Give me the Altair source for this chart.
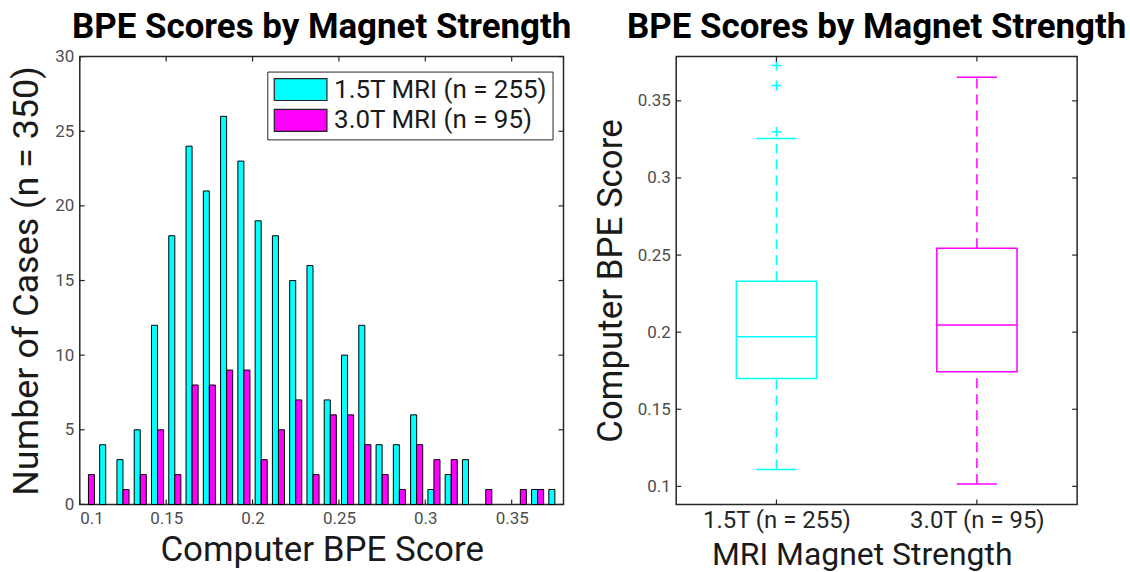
import altair as alt
import pandas as pd

# ---- histogram data: counts per 0.01-wide bin of computer BPE score ----
bin_centers = [0.105, 0.115, 0.125, 0.135, 0.145, 0.155, 0.165, 0.175, 0.185, 0.195,
               0.205, 0.215, 0.225, 0.235, 0.245, 0.255, 0.265, 0.275, 0.285, 0.295,
               0.305, 0.315, 0.325, 0.335, 0.345, 0.355, 0.365, 0.375]
counts_15t = [0, 4, 3, 5, 12, 18, 24, 21, 26, 23, 19, 18, 15, 16, 7, 10, 12, 4, 4, 6,
              1, 2, 3, 0, 0, 0, 1, 1]
counts_30t = [2, 0, 1, 2, 5, 2, 8, 8, 9, 9, 3, 5, 7, 2, 6, 6, 4, 2, 1, 4,
              3, 3, 0, 1, 0, 1, 1, 0]
series_names = ["1.5T MRI (n = 255)", "3.0T MRI (n = 95)"]
hist_x_ticks = [0.1, 0.15, 0.2, 0.25, 0.3, 0.35]
hist_y_ticks = [0, 5, 10, 15, 20, 25, 30]

# ---- box plot summary per magnet strength ----
groups = ["1.5T (n = 255)", "3.0T (n = 95)"]
group_pos = [1, 2]
lower_whisker = [0.111, 0.1015]
q1 = [0.170, 0.1743]
median = [0.197, 0.2046]
q3 = [0.233, 0.2545]
upper_whisker = [0.3256, 0.3653]
outlier_group = ["1.5T (n = 255)", "1.5T (n = 255)", "1.5T (n = 255)"]
outlier_pos = [1, 1, 1]
outlier_value = [0.330, 0.360, 0.373]
box_y_ticks = [0.1, 0.15, 0.2, 0.25, 0.3, 0.35]

CYAN = "#00FFFF"
MAGENTA = "#FF00FF"
AXIS_GREY = "#262626"
LABEL_GREY = "#4d4d4d"
FONT = "Roboto"
TITLE = "BPE Scores by Magnet Strength"

W1, H1 = 485, 449
W2, H2 = 402, 449
TICK = 5

hist_df = pd.DataFrame({
    "center": bin_centers * 2,
    "count": counts_15t + counts_30t,
    "series": [series_names[0]] * len(bin_centers) + [series_names[1]] * len(bin_centers),
})

x_scale_h = alt.Scale(domain=[0.1, 0.38], nice=False, zero=False)
y_scale_h = alt.Scale(domain=[0, 30], nice=False)

is_first = f"datum.series == '{series_names[0]}'"
bars = (
    alt.Chart(hist_df)
    .transform_filter("datum.count > 0")
    .transform_calculate(
        left=f"{is_first} ? datum.center - 0.0035 : datum.center",
        right=f"{is_first} ? datum.center : datum.center + 0.0035",
    )
    .mark_bar(stroke="black", strokeWidth=1, opacity=1)
    .encode(
        x=alt.X("left:Q", scale=x_scale_h,
                axis=alt.Axis(values=hist_x_ticks, format="~g", title="Computer BPE Score",
                              labelFontSize=17, labelColor=LABEL_GREY, labelPadding=6,
                              titleFontSize=35, titlePadding=6)),
        x2="right:Q",
        y=alt.Y("count:Q", scale=y_scale_h,
                axis=alt.Axis(values=hist_y_ticks, title="Number of Cases (n = 350)",
                              labelFontSize=17, labelColor=LABEL_GREY, labelPadding=6,
                              titleFontSize=36, titlePadding=9)),
        y2=alt.datum(0),
        color=alt.Color(
            "series:N",
            scale=alt.Scale(domain=series_names, range=[CYAN, MAGENTA]),
            legend=alt.Legend(
                title=None, orient="none", legendX=188, legendY=15,
                labelFontSize=26, labelFont=FONT, labelColor="#1a1a1a", labelOffset=36,
                labelLimit=400,
                symbolType="M-1,-1H3.8V1H-1Z", symbolSize=484,
                symbolStrokeColor="#222222", symbolStrokeWidth=1.2, symbolOpacity=1,
                rowPadding=3, padding=5, strokeColor=AXIS_GREY, fillColor="white",
            ),
        ),
    )
)

hx_df = pd.DataFrame({"v": hist_x_ticks})
hy_df = pd.DataFrame({"v": hist_y_ticks})
tick_style = dict(color=AXIS_GREY, strokeWidth=1.2)
h_ticks = alt.layer(
    alt.Chart(hx_df).mark_rule(**tick_style).encode(x=alt.X("v:Q", scale=x_scale_h), y=alt.value(H1), y2=alt.value(H1 - TICK)),
    alt.Chart(hx_df).mark_rule(**tick_style).encode(x=alt.X("v:Q", scale=x_scale_h), y=alt.value(0), y2=alt.value(TICK)),
    alt.Chart(hy_df).mark_rule(**tick_style).encode(y=alt.Y("v:Q", scale=y_scale_h), x=alt.value(0), x2=alt.value(TICK)),
    alt.Chart(hy_df).mark_rule(**tick_style).encode(y=alt.Y("v:Q", scale=y_scale_h), x=alt.value(W1), x2=alt.value(W1 - TICK)),
)

title_style = dict(fontSize=35, font=FONT, fontWeight="bold", color="black", anchor="middle")

# the "30" label overhangs the top edge, so this title needs less offset
hist_chart = alt.layer(bars, h_ticks).properties(
    width=W1, height=H1, title=alt.TitleParams(TITLE, offset=3, **title_style),
)

# ---- box plot ----
box_df = pd.DataFrame({
    "group": groups, "pos": group_pos, "lw": lower_whisker, "q1": q1,
    "med": median, "q3": q3, "uw": upper_whisker,
})
out_df = pd.DataFrame({"group": outlier_group, "pos": outlier_pos, "value": outlier_value})

x_scale_b = alt.Scale(domain=[0.5, 2.5], nice=False, zero=False)
y_scale_b = alt.Scale(domain=[0.0883, 0.3787], nice=False, zero=False)
stroke_enc = alt.Stroke("group:N", scale=alt.Scale(domain=groups, range=[CYAN, MAGENTA]), legend=None)

label_expr = f"datum.value == 1 ? '{groups[0]}' : '{groups[1]}'"
box_base = alt.Chart(box_df).transform_calculate(
    b0="datum.pos - 0.2", b1="datum.pos + 0.2",
    c0="datum.pos - 0.1", c1="datum.pos + 0.1",
)
bx = alt.X("b0:Q", scale=x_scale_b,
           axis=alt.Axis(values=group_pos, labelExpr=label_expr, title="MRI Magnet Strength",
                         labelFontSize=24, labelColor=AXIS_GREY, labelPadding=4,
                         titleFontSize=32, titleX=186, titleY=35))
by = alt.Y("q1:Q", scale=y_scale_b,
           axis=alt.Axis(values=box_y_ticks, format="~g", title="Computer BPE Score",
                         labelFontSize=17, labelColor=LABEL_GREY, labelPadding=6,
                         titleFontSize=35, titlePadding=9))

boxes = box_base.mark_rect(fillOpacity=0, strokeWidth=1.5).encode(x=bx, x2="b1:Q", y=by, y2="q3:Q", stroke=stroke_enc)
medians = box_base.mark_rule(strokeWidth=1.5).encode(
    x=alt.X("b0:Q", scale=x_scale_b), x2="b1:Q", y=alt.Y("med:Q", scale=y_scale_b), stroke=stroke_enc)
upper_w = box_base.mark_rule(strokeWidth=1.5, strokeDash=[10, 6]).encode(
    x=alt.X("pos:Q", scale=x_scale_b), y=alt.Y("q3:Q", scale=y_scale_b), y2="uw:Q", stroke=stroke_enc)
lower_w = box_base.mark_rule(strokeWidth=1.5, strokeDash=[10, 6]).encode(
    x=alt.X("pos:Q", scale=x_scale_b), y=alt.Y("lw:Q", scale=y_scale_b), y2="q1:Q", stroke=stroke_enc)
upper_cap = box_base.mark_rule(strokeWidth=1.5).encode(
    x=alt.X("c0:Q", scale=x_scale_b), x2="c1:Q", y=alt.Y("uw:Q", scale=y_scale_b), stroke=stroke_enc)
lower_cap = box_base.mark_rule(strokeWidth=1.5).encode(
    x=alt.X("c0:Q", scale=x_scale_b), x2="c1:Q", y=alt.Y("lw:Q", scale=y_scale_b), stroke=stroke_enc)
outliers = alt.Chart(out_df).mark_point(shape="M-1,0H1M0,-1V1", filled=False, size=100, strokeWidth=1.5, opacity=1).encode(
    x=alt.X("pos:Q", scale=x_scale_b), y=alt.Y("value:Q", scale=y_scale_b), stroke=stroke_enc)

bxt_df = pd.DataFrame({"v": group_pos})
byt_df = pd.DataFrame({"v": box_y_ticks})
b_ticks = alt.layer(
    alt.Chart(bxt_df).mark_rule(**tick_style).encode(x=alt.X("v:Q", scale=x_scale_b), y=alt.value(H2), y2=alt.value(H2 - TICK)),
    alt.Chart(bxt_df).mark_rule(**tick_style).encode(x=alt.X("v:Q", scale=x_scale_b), y=alt.value(0), y2=alt.value(TICK)),
    alt.Chart(byt_df).mark_rule(**tick_style).encode(y=alt.Y("v:Q", scale=y_scale_b), x=alt.value(0), x2=alt.value(TICK)),
    alt.Chart(byt_df).mark_rule(**tick_style).encode(y=alt.Y("v:Q", scale=y_scale_b), x=alt.value(W2), x2=alt.value(W2 - TICK)),
)

box_chart = alt.layer(boxes, medians, upper_w, lower_w, upper_cap, lower_cap, outliers, b_ticks).properties(
    width=W2, height=H2, title=alt.TitleParams(TITLE, offset=11, **title_style),
)

chart = (
    alt.hconcat(hist_chart, box_chart, spacing=113, bounds="flush")
    .properties(padding={"left": 8, "top": 8, "right": 2, "bottom": 2}, background="white")
    .configure_view(stroke=AXIS_GREY, strokeWidth=1.5)
    .configure_axis(grid=False, domain=False, ticks=False, labelFont=FONT, titleFont=FONT,
                    titleFontWeight="normal", titleColor="#1a1a1a")
    .configure_legend(labelFont=FONT)
)

chart.save("out.html", embed_options={"renderer": "svg", "actions": False})
